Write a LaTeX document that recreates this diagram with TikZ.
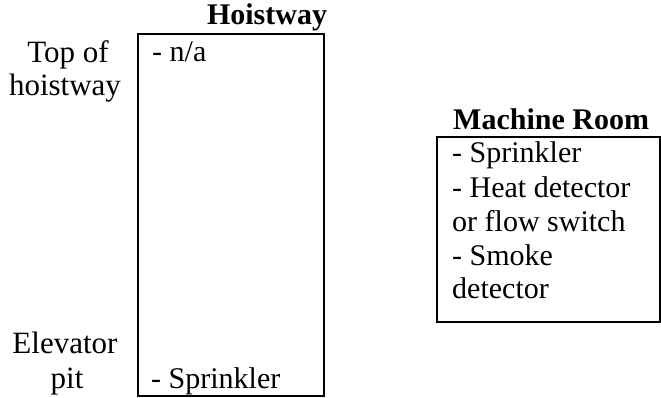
\documentclass[tikz,border=0pt]{standalone}
\usepackage{fontspec}
\setmainfont{Liberation Serif}
\begin{document}
\begin{tikzpicture}[x=1pt,y=-1pt,
  lbl/.style={inner sep=0pt, font=\fontsize{30}{36}\selectfont},
  side/.style={inner sep=0pt, font=\fontsize{31}{36}\selectfont},
  ttl/.style={lbl, font=\fontsize{30}{36}\selectfont\bfseries},
  box/.style={draw, line width=2pt}]
\useasboundingbox (0,0) rectangle (661,398);
\draw[box] (138,34) rectangle (324,396);
\draw[box] (437,137) rectangle (660,322);
\node[ttl, anchor=base] (ht) at (267,25) {Hoistway};
\node[side, anchor=base] (top1) at (68,63) {Top of};
\node[side, anchor=base] (top2) at (65,96) {hoistway};
\node[lbl, anchor=base west] (na) at (152,62) {- n/a};
\node[side, anchor=base] (pit1) at (65,353) {Elevator};
\node[side, anchor=base] (pit2) at (67,388) {pit};
\node[lbl, anchor=base west] (spr) at (151,388) {- Sprinkler};
\node[ttl, anchor=base west] (mt) at (453,130) {Machine Room};
\node[lbl, anchor=base west] (m1) at (452,163) {- Sprinkler};
\node[lbl, anchor=base west] (m2) at (452,197) {- Heat detector};
\node[lbl, anchor=base west] (m3) at (452,232) {or flow switch};
\node[lbl, anchor=base west] (m4) at (452,265) {- Smoke};
\node[lbl, anchor=base west] (m5) at (452,298) {detector};
\end{tikzpicture}
\end{document}
